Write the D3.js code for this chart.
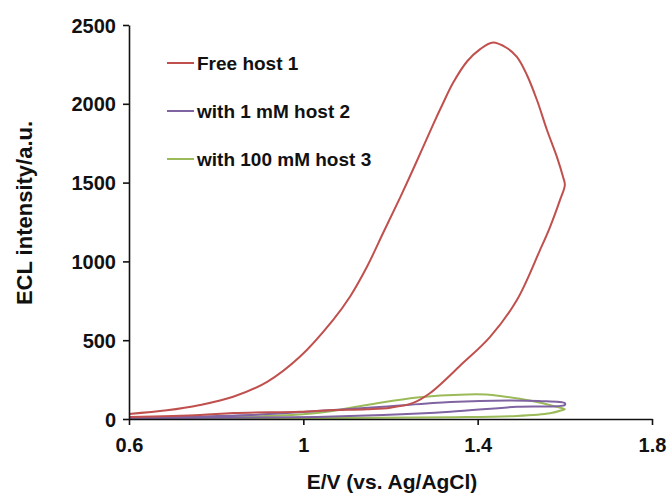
<!DOCTYPE html>
<html>
<head>
<meta charset="utf-8">
<script src="https://cdn.jsdelivr.net/npm/d3@7"></script>
<style>
  html, body { margin: 0; padding: 0; background: #fff; }
  svg { display: block; }
  text { font-family: "Liberation Sans", Arial, sans-serif; font-weight: bold; fill: #111; }
</style>
</head>
<body>
<svg id="chart" width="672" height="498"></svg>
<script>
// ---- data (E in V, ECL intensity in a.u.) ----
const seriesNames = ["Free host 1", "with 1 mM host 2", "with 100 mM host 3"];
const seriesColors = ["#c0504d", "#8064a2", "#9bbb59"];

const freeHost1E = [0.600, 0.687, 0.763, 0.839, 0.917, 0.992, 1.068, 1.107, 1.146, 1.183, 1.222, 1.261, 1.298, 1.320, 1.343, 1.376, 1.405, 1.433, 1.467, 1.490, 1.513, 1.536, 1.559, 1.582, 1.596, 1.600,
                    1.589, 1.566, 1.543, 1.490, 1.428, 1.366, 1.291, 1.252, 1.200, 1.146, 1.061, 0.992, 0.839, 0.763, 0.600];
const freeHost1I = [32, 55, 89, 141, 236, 395, 628, 776, 966, 1180, 1405, 1640, 1870, 2000, 2130, 2270, 2345, 2388, 2354, 2297, 2183, 2024, 1834, 1662, 1535, 1485,
                    1390, 1218, 1072, 755, 520, 355, 165, 102, 72, 62, 55, 46, 38, 25, 13];

const host2E = [0.600, 0.750, 0.878, 1.031, 1.183, 1.337, 1.470, 1.540, 1.600,
                1.600, 1.490, 1.337, 1.183, 1.031, 0.800, 0.600];
const host2I = [8, 15, 25, 50, 78, 108, 118, 114, 100,
                89, 78, 46, 25, 13, 8, 5];

const host3E = [0.600, 0.878, 1.031, 1.146, 1.261, 1.376, 1.420, 1.452, 1.520, 1.580, 1.600,
                1.595, 1.566, 1.490, 1.337, 1.000, 0.600];
const host3I = [5, 15, 38, 89, 137, 156, 155, 146, 117, 78, 62,
                57, 36, 19, 11, 6, 3];

const xTicks = [0.6, 1, 1.4, 1.8];
const yTicks = [0, 500, 1000, 1500, 2000, 2500];
const xTitle = "E/V (vs. Ag/AgCl)";
const yTitle = "ECL intensity/a.u.";

// ---- build ----
const series = [
  { name: seriesNames[0], color: seriesColors[0], pts: freeHost1E.map((e, i) => [e, freeHost1I[i]]) },
  { name: seriesNames[1], color: seriesColors[1], pts: host2E.map((e, i) => [e, host2I[i]]) },
  { name: seriesNames[2], color: seriesColors[2], pts: host3E.map((e, i) => [e, host3I[i]]) }
];

const svg = d3.select("#chart");
const x = d3.scaleLinear().domain([0.6, 1.8]).range([129, 652]);
const y = d3.scaleLinear().domain([0, 2500]).range([419, 25]);

const line = d3.line().x(d => x(d[0])).y(d => y(d[1])).curve(d3.curveCatmullRom.alpha(0.5));

[series[2], series[1], series[0]].forEach(s => {
  svg.append("path")
    .attr("d", line(s.pts))
    .attr("fill", "none")
    .attr("stroke", s.color)
    .attr("stroke-width", 2)
    .attr("stroke-linejoin", "round");
});

// axes
const xAxis = svg.append("g").attr("transform", `translate(0,${y(0)})`)
  .call(d3.axisBottom(x).tickValues(xTicks).tickFormat(d3.format("")).tickSize(6).tickSizeOuter(0));
const yAxis = svg.append("g").attr("transform", `translate(${x(0.6)},0)`)
  .call(d3.axisLeft(y).tickValues(yTicks).tickFormat(d3.format("d")).tickSize(6).tickSizeOuter(0));

[xAxis, yAxis].forEach(g => {
  g.select(".domain").attr("stroke", "#111").attr("stroke-width", 1.6);
  g.selectAll(".tick line").attr("stroke", "#111").attr("stroke-width", 1.6);
  g.selectAll(".tick text").attr("font-size", 20).attr("font-family", "Liberation Sans, Arial, sans-serif").attr("font-weight", "bold").attr("fill", "#111");
});
xAxis.selectAll(".tick text").attr("dy", "1.2em");
yAxis.selectAll(".tick text").attr("x", -13).attr("dy", "0.35em");

// titles
svg.append("text").attr("x", 392).attr("y", 489).attr("text-anchor", "middle").attr("font-size", 21).text(xTitle);
svg.append("text").attr("transform", "translate(32,213) rotate(-90)").attr("text-anchor", "middle").attr("font-size", 22).text(yTitle);

// legend
const legY = [63, 111, 159];
series.forEach((s, i) => {
  svg.append("line").attr("x1", 167).attr("x2", 194).attr("y1", legY[i]).attr("y2", legY[i])
    .attr("stroke", s.color).attr("stroke-width", 2);
  svg.append("text").attr("x", 197).attr("y", legY[i]).attr("dy", "0.35em").attr("font-size", 19).text(s.name);
});
</script>
</body>
</html>
